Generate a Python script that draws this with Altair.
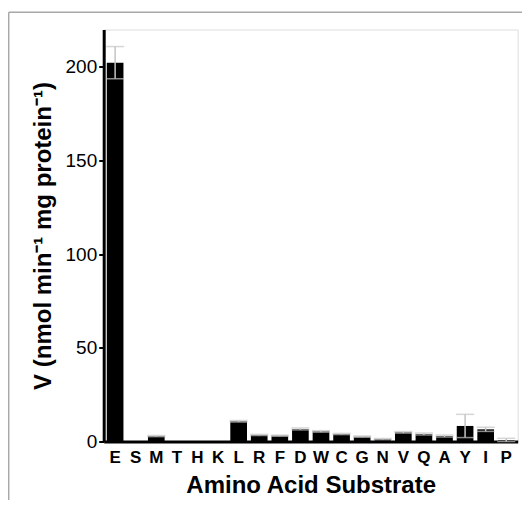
import altair as alt
import pandas as pd

substrates = ["E", "S", "M", "T", "H", "K", "L", "R", "F", "D",
              "W", "C", "G", "N", "V", "Q", "A", "Y", "I", "P"]
rates = [202.3, 0.0, 2.9, 0.0, 0.0, 0.0, 10.8, 3.5, 3.1, 6.7,
         5.4, 4.0, 2.6, 1.3, 4.9, 4.0, 2.9, 8.3, 6.5, 0.6]
errors = [8.6, 0.0, 0.3, 0.0, 0.0, 0.0, 0.4, 0.3, 0.3, 0.5,
          0.4, 0.3, 0.3, 0.3, 0.4, 0.5, 0.5, 6.2, 1.1, 1.1]

df = pd.DataFrame({"aa": substrates, "v": rates, "e": errors})
df["hi"] = df["v"] + df["e"]
df["lo"] = (df["v"] - df["e"]).clip(lower=0)

FONT = "Liberation Sans"

x = alt.X("aa:N", sort=substrates,
          scale=alt.Scale(paddingInner=0.19, paddingOuter=0.15),
          axis=alt.Axis(title="Amino Acid Substrate", labelAngle=0,
                        ticks=False, tickSize=0, domainColor="black",
                        domainWidth=3, labelFont=FONT, labelFontSize=17,
                        labelFontWeight="bold", labelColor="black",
                        labelPadding=8, titleFont=FONT, titleFontSize=24,
                        titleFontWeight="bold", titleColor="black",
                        titlePadding=8))

y = alt.Y("v:Q", scale=alt.Scale(domain=[0, 220], nice=False),
          axis=alt.Axis(title="V (nmol min⁻¹ mg protein⁻¹)",
                        values=[0, 50, 100, 150, 200], grid=False,
                        domainColor="black", domainWidth=3,
                        tickColor="black", tickWidth=2, tickSize=5,
                        labelFont=FONT, labelFontSize=19, labelColor="black",
                        labelPadding=2, titleFont=FONT, titleFontSize=24,
                        titleFontWeight="bold", titleColor="black",
                        titlePadding=9))

base = alt.Chart(df)

bars = base.mark_bar(color="black").encode(x=x, y=y)

err = base.transform_filter("datum.e > 0")
err_line = err.mark_rule(color="#c4c4c4", strokeWidth=1.5).encode(
    x=alt.X("aa:N", sort=substrates), y="lo:Q", y2="hi:Q")
cap_hi = err.mark_tick(color="#c4c4c4", thickness=1.5, size=18).encode(
    x=alt.X("aa:N", sort=substrates), y="hi:Q")
cap_lo = err.mark_tick(color="#c4c4c4", thickness=1.5, size=18).encode(
    x=alt.X("aa:N", sort=substrates), y="lo:Q")

frame_src = alt.Chart(pd.DataFrame({"k": [0]}))
frame_top = frame_src.mark_rule(color="#a8a8a8", strokeWidth=1.5).encode(
    x=alt.value(-95), x2=alt.value(420), y=alt.value(-17.2))
frame_left = frame_src.mark_rule(color="#a8a8a8", strokeWidth=1.5).encode(
    x=alt.value(-95), y=alt.value(-17.2), y2=alt.value(475))

chart = alt.layer(bars, err_line, cap_hi, cap_lo, frame_top, frame_left).properties(
    width=414, height=412,
    autosize=alt.AutoSizeParams(type="none"),
    padding={"left": 95.7, "top": 21.5, "right": 4, "bottom": 58},
).configure_view(stroke=None).configure(background="white")

chart.save("out.html", embed_options={"renderer": "svg", "actions": False})
